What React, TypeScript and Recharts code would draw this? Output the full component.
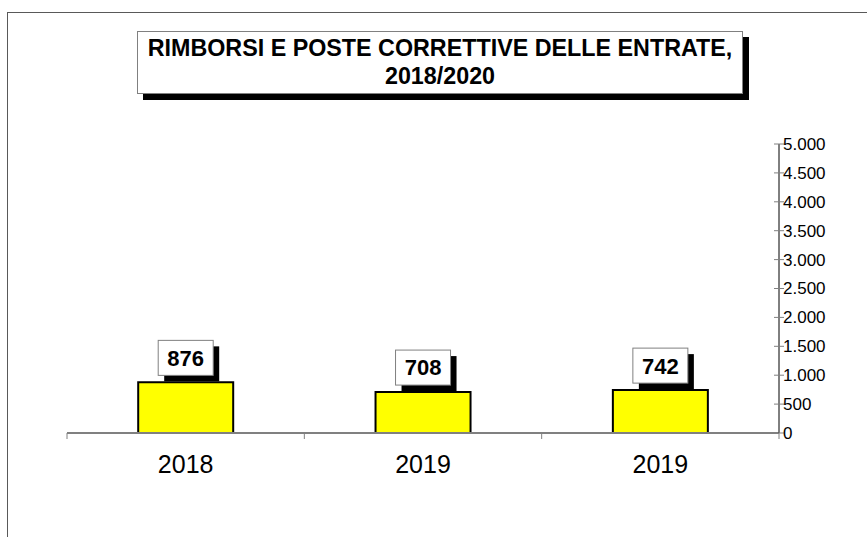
import { BarChart, Bar, XAxis, YAxis, LabelList } from "recharts";

const years = ["2018", "2019", "2019"];
const rimborsi = [876, 708, 742];
const yTicks = [0, 500, 1000, 1500, 2000, 2500, 3000, 3500, 4000, 4500, 5000];
const titleLines = ["RIMBORSI E POSTE CORRETTIVE DELLE ENTRATE,", "2018/2020"];

const FONT = '"Liberation Sans", Arial, sans-serif';
const X_TICK_GAP = 22;

// formato italiano: punto come separatore delle migliaia
function fmtIt(v: number): string {
  return String(v).replace(/\B(?=(\d{3})+(?!\d))/g, ".");
}

function YTick(props: any) {
  const { x, y, payload } = props;
  // x = asse + tickSize(5) + tickMargin(1): la tacca attraversa l'asse
  return (
    <g>
      <line x1={x - 11} x2={x - 1} y1={y} y2={y} stroke="#808080" strokeWidth={1} />
      <text x={x - 2} y={y} dy="0.35em" textAnchor="start" fontSize={17} fontFamily={FONT} fill="#000">
        {fmtIt(payload.value)}
      </text>
    </g>
  );
}

// etichetta di categoria + tacche sui confini della banda
function XTick(props: any) {
  const { x, y, payload, width, visibleTicksCount, index } = props;
  const band = width / visibleTicksCount;
  const axisY = y - X_TICK_GAP;
  const left = x - band / 2;
  const right = x + band / 2;
  return (
    <g>
      <line x1={left} x2={left} y1={axisY} y2={axisY + 6} stroke="#808080" strokeWidth={1} />
      {index === visibleTicksCount - 1 && (
        <line x1={right} x2={right} y1={axisY} y2={axisY + 6} stroke="#808080" strokeWidth={1} />
      )}
      <text x={x} y={y} dy="0.71em" textAnchor="middle" fontSize={25} fontFamily={FONT} fill="#000">
        {payload.value}
      </text>
    </g>
  );
}

function ValueBox(props: any) {
  const { x, y, width, value } = props;
  const w = 55;
  const h = 35;
  const cx = x + width / 2;
  const bx = cx - w / 2;
  const by = y - 7 - h;
  return (
    <g>
      <rect x={bx + 6} y={by + 6} width={w} height={h} fill="#000" />
      <rect x={bx} y={by} width={w} height={h} fill="#fff" stroke="#808080" strokeWidth={1} />
      <text x={cx} y={by + h / 2} dy="0.36em" textAnchor="middle" fontSize={22} fontWeight="bold" fontFamily={FONT} fill="#000">
        {value}
      </text>
    </g>
  );
}

export default function App() {
  const data = years.map((year, i) => ({ year, value: rimborsi[i] }));

  return (
    <div style={{ position: "absolute", left: 0, top: 0, width: 867, height: 537, overflow: "hidden", background: "#fff", fontFamily: FONT }}>
      {/* cornice esterna, continua oltre il bordo destro e inferiore */}
      <div style={{ position: "absolute", left: 7, top: 12, width: 900, height: 600, borderTop: "1px solid #595959", borderLeft: "1px solid #595959" }} />

      <div style={{ position: "absolute", left: 0, top: 0 }}>
        <BarChart width={867} height={537} data={data} margin={{ top: 144, right: 28, bottom: 44, left: 67 }} barCategoryGap="30%">
          <XAxis
            dataKey="year"
            axisLine={{ stroke: "#808080", strokeWidth: 2 }}
            tickLine={false}
            tickSize={0}
            tickMargin={X_TICK_GAP}
            interval={0}
            tick={<XTick />}
            height={60}
          />
          <YAxis
            orientation="right"
            domain={[0, 5000]}
            ticks={yTicks}
            interval={0}
            width={60}
            axisLine={{ stroke: "#000" }}
            tickLine={false}
            tickSize={5}
            tickMargin={1}
            tick={<YTick />}
          />
          <Bar dataKey="value" fill="#ffff00" stroke="#000" strokeWidth={2} isAnimationActive={false}>
            <LabelList dataKey="value" content={<ValueBox />} />
          </Bar>
        </BarChart>
      </div>

      {/* titolo in riquadro con ombra */}
      <div
        style={{
          position: "absolute",
          left: 137,
          top: 31,
          width: 604,
          height: 59,
          border: "1px solid #808080",
          background: "#fff",
          boxShadow: "6px 6px 0 #000",
          textAlign: "center",
          fontWeight: "bold",
          fontSize: 23.3,
          lineHeight: "28px",
          paddingTop: 2,
          boxSizing: "content-box",
          color: "#000",
        }}
      >
        {titleLines.map((t) => (
          <div key={t}>{t}</div>
        ))}
      </div>
    </div>
  );
}
